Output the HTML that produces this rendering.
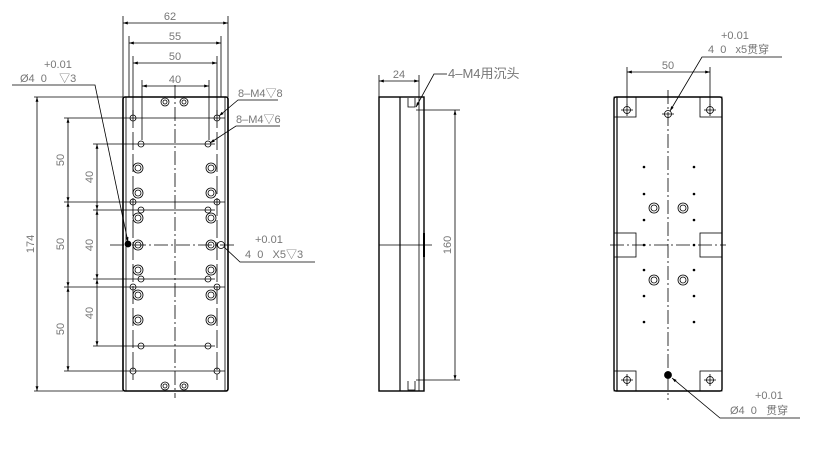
<!DOCTYPE html>
<html><head><meta charset="utf-8"><style>body{margin:0;background:#fff}svg{display:block}text{font-family:"Liberation Sans","Noto Sans CJK SC",sans-serif;fill:#777;font-size:11px}</style></head><body>
<svg width="818" height="452" viewBox="0 0 818 452" xmlns="http://www.w3.org/2000/svg">
<defs><marker id="a" viewBox="0 0 10 10" refX="10" refY="5" markerWidth="6" markerHeight="6" orient="auto-start-reverse"><path d="M0,2L10,5L0,8z" fill="#000"/></marker></defs>
<g stroke="#000" fill="none" stroke-width="0.8">
<!-- LEFT VIEW -->
<rect x="123" y="97" width="105" height="294" rx="2" stroke-width="1.6"/>
<line x1="126" y1="97" x2="126" y2="391"/><line x1="225" y1="97" x2="225" y2="391"/>
<line x1="175" y1="85" x2="175" y2="398" stroke-dasharray="14,3,2,3"/>
<line x1="110" y1="245" x2="235" y2="245" stroke-dasharray="14,3,2,3"/>
<line x1="133" y1="110" x2="133" y2="380" stroke-dasharray="18,4"/><line x1="217" y1="110" x2="217" y2="380" stroke-dasharray="18,4"/>
<!-- top dims -->
<line x1="123" y1="16" x2="123" y2="97"/><line x1="228" y1="16" x2="228" y2="97"/>
<line x1="129" y1="36" x2="129" y2="97"/><line x1="221" y1="36" x2="221" y2="97"/>
<line x1="133" y1="56" x2="133" y2="115"/><line x1="217" y1="56" x2="217" y2="115"/>
<line x1="142" y1="80" x2="142" y2="140"/><line x1="209" y1="80" x2="209" y2="140"/>
<line x1="123" y1="23" x2="228" y2="23" marker-start="url(#a)" marker-end="url(#a)"/>
<line x1="129" y1="43" x2="221" y2="43" marker-start="url(#a)" marker-end="url(#a)"/>
<line x1="133" y1="63" x2="217" y2="63" marker-start="url(#a)" marker-end="url(#a)"/>
<line x1="142" y1="86" x2="209" y2="86" marker-start="url(#a)" marker-end="url(#a)"/>
<!-- left dims -->
<line x1="34" y1="97" x2="123" y2="97"/><line x1="34" y1="391" x2="123" y2="391"/>
<line x1="37" y1="97" x2="37" y2="391" marker-start="url(#a)" marker-end="url(#a)"/>
<line x1="64" y1="118" x2="225" y2="118"/><line x1="64" y1="202" x2="225" y2="202"/><line x1="64" y1="287" x2="225" y2="287"/><line x1="64" y1="371" x2="225" y2="371"/>
<line x1="93" y1="144" x2="215" y2="144"/><line x1="93" y1="210" x2="215" y2="210"/><line x1="93" y1="279" x2="215" y2="279"/><line x1="93" y1="346" x2="215" y2="346"/>
<line x1="68" y1="118" x2="68" y2="202" marker-start="url(#a)" marker-end="url(#a)"/>
<line x1="68" y1="202" x2="68" y2="287" marker-start="url(#a)" marker-end="url(#a)"/>
<line x1="68" y1="287" x2="68" y2="371" marker-start="url(#a)" marker-end="url(#a)"/>
<line x1="97" y1="144" x2="97" y2="210" marker-start="url(#a)" marker-end="url(#a)"/>
<line x1="97" y1="210" x2="97" y2="279" marker-start="url(#a)" marker-end="url(#a)"/>
<line x1="97" y1="279" x2="97" y2="346" marker-start="url(#a)" marker-end="url(#a)"/>
<!-- holes -->
<g>
<circle cx="133" cy="118" r="3"/><circle cx="217" cy="118" r="3"/>
<circle cx="141" cy="144" r="3"/><circle cx="208" cy="144" r="3"/>
<circle cx="133" cy="202" r="3"/><circle cx="217" cy="202" r="3"/>
<circle cx="141" cy="210" r="3"/><circle cx="208" cy="210" r="3"/>
<circle cx="141" cy="279" r="3"/><circle cx="208" cy="279" r="3"/>
<circle cx="133" cy="287" r="3"/><circle cx="217" cy="287" r="3"/>
<circle cx="141" cy="346" r="3"/><circle cx="208" cy="346" r="3"/>
<circle cx="133" cy="371" r="3"/><circle cx="217" cy="371" r="3"/>
<circle cx="221" cy="245" r="3.5"/>
</g>
<g>
<circle cx="138" cy="168" r="5"/><circle cx="138" cy="168" r="3"/><circle cx="211" cy="168" r="5"/><circle cx="211" cy="168" r="3"/>
<circle cx="138" cy="193" r="5"/><circle cx="138" cy="193" r="3"/><circle cx="211" cy="193" r="5"/><circle cx="211" cy="193" r="3"/>
<circle cx="138" cy="218" r="5"/><circle cx="138" cy="218" r="3"/><circle cx="211" cy="218" r="5"/><circle cx="211" cy="218" r="3"/>
<circle cx="138" cy="245" r="5"/><circle cx="138" cy="245" r="3"/><circle cx="211" cy="245" r="5"/><circle cx="211" cy="245" r="3"/>
<circle cx="138" cy="270" r="5"/><circle cx="138" cy="270" r="3"/><circle cx="211" cy="270" r="5"/><circle cx="211" cy="270" r="3"/>
<circle cx="138" cy="295" r="5"/><circle cx="138" cy="295" r="3"/><circle cx="211" cy="295" r="5"/><circle cx="211" cy="295" r="3"/>
<circle cx="138" cy="320" r="5"/><circle cx="138" cy="320" r="3"/><circle cx="211" cy="320" r="5"/><circle cx="211" cy="320" r="3"/>
<circle cx="165" cy="102" r="4"/><circle cx="165" cy="102" r="2"/><circle cx="184" cy="102" r="4"/><circle cx="184" cy="102" r="2"/>
<circle cx="165" cy="386" r="4"/><circle cx="165" cy="386" r="2"/><circle cx="184" cy="386" r="4"/><circle cx="184" cy="386" r="2"/>
</g>
<circle cx="128" cy="244" r="3" fill="#000"/>
<!-- leaders left -->
<polyline points="12,85 95,85 128,242" marker-end="url(#a)"/>
<polyline points="278,100 238,100 219,116" marker-end="url(#a)"/>
<polyline points="280,126 236,126 210,143" marker-end="url(#a)"/>
<polyline points="224,247 240,262 315,262" />
<!-- MIDDLE VIEW -->
<rect x="379" y="97" width="45" height="294" stroke-width="1.4"/>
<line x1="400" y1="97" x2="400" y2="391" stroke-width="1.2"/>
<line x1="419" y1="97" x2="419" y2="391"/>
<line x1="379" y1="245" x2="432" y2="245"/>
<line x1="424" y1="233" x2="424" y2="257" stroke-width="2"/>
<path d="M408,98v9h7v-9M408,381v9h7v-9"/>
<line x1="379" y1="75" x2="379" y2="97"/><line x1="419" y1="75" x2="419" y2="97"/>
<line x1="379" y1="81" x2="419" y2="81" marker-start="url(#a)" marker-end="url(#a)"/>
<line x1="416" y1="110" x2="460" y2="110"/><line x1="416" y1="380" x2="460" y2="380"/>
<line x1="455" y1="110" x2="455" y2="380" marker-start="url(#a)" marker-end="url(#a)"/>
<polyline points="447,74 434,74 416,107" marker-end="url(#a)"/>
<!-- RIGHT VIEW -->
<rect x="614" y="97" width="108" height="294" rx="2" stroke-width="1.4"/>
<line x1="617" y1="97" x2="617" y2="391" stroke-width="1.2"/>
<line x1="668" y1="90" x2="668" y2="400" stroke-dasharray="14,3,2,3"/>
<line x1="610" y1="245" x2="726" y2="245" stroke-dasharray="14,3,2,3"/>
<rect x="614" y="97" width="22" height="20"/><rect x="700" y="97" width="22" height="20"/>
<rect x="614" y="371" width="22" height="20"/><rect x="700" y="371" width="22" height="20"/>
<rect x="614" y="233" width="22" height="24"/><rect x="700" y="233" width="22" height="24"/>
<g><circle cx="627" cy="110" r="3.5"/><circle cx="710" cy="110" r="3.5"/><circle cx="627" cy="380" r="3.5"/><circle cx="710" cy="380" r="3.5"/><circle cx="668" cy="114" r="3.5"/></g>
<path d="M621,110h12M627,104v12M704,110h12M710,104v12M621,380h12M627,374v12M704,380h12M710,374v12M662,114h12"/>
<circle cx="668" cy="375" r="3.5" fill="#000"/>
<g><circle cx="654" cy="208" r="5"/><circle cx="654" cy="208" r="3"/><circle cx="683" cy="208" r="5"/><circle cx="683" cy="208" r="3"/>
<circle cx="654" cy="280" r="5"/><circle cx="654" cy="280" r="3"/><circle cx="683" cy="280" r="5"/><circle cx="683" cy="280" r="3"/></g>
<line x1="627" y1="67" x2="627" y2="105"/><line x1="710" y1="67" x2="710" y2="105"/>
<line x1="627" y1="72" x2="710" y2="72" marker-start="url(#a)" marker-end="url(#a)"/>
<polyline points="782,57 702,57 670,111" marker-end="url(#a)"/>
<polyline points="800,418 720,418 672,378" marker-end="url(#a)"/>
</g>
<g fill="#000">
<circle cx="644" cy="167" r="1.3"/><circle cx="694" cy="167" r="1.3"/><circle cx="644" cy="194" r="1.3"/><circle cx="694" cy="194" r="1.3"/>
<circle cx="644" cy="220" r="1.3"/><circle cx="694" cy="220" r="1.3"/><circle cx="644" cy="245" r="1.3"/><circle cx="694" cy="245" r="1.3"/>
<circle cx="644" cy="270" r="1.3"/><circle cx="694" cy="270" r="1.3"/><circle cx="644" cy="296" r="1.3"/><circle cx="694" cy="296" r="1.3"/>
<circle cx="644" cy="322" r="1.3"/><circle cx="694" cy="322" r="1.3"/>
</g>
<text x="170" y="20" text-anchor="middle">62</text>
<text x="175" y="40" text-anchor="middle">55</text>
<text x="175" y="60" text-anchor="middle">50</text>
<text x="175" y="83" text-anchor="middle">40</text>
<text x="44" y="68">+0.01</text>
<text x="20" y="82">Ø4&#160;&#160;0&#160;&#160;&#160;&#160;▽3</text>
<text x="238" y="97">8–M4▽8</text>
<text x="236" y="123">8–M4▽6</text>
<text x="255" y="243">+0.01</text>
<text x="245" y="258">4&#160;&#160;0&#160;&#160;&#160;X5▽3</text>
<g text-anchor="middle">
<text transform="translate(34,244) rotate(-90)">174</text>
<text transform="translate(64,160) rotate(-90)">50</text>
<text transform="translate(64,244) rotate(-90)">50</text>
<text transform="translate(64,329) rotate(-90)">50</text>
<text transform="translate(93,177) rotate(-90)">40</text>
<text transform="translate(93,245) rotate(-90)">40</text>
<text transform="translate(93,313) rotate(-90)">40</text>
<text transform="translate(451,245) rotate(-90)">160</text>
</g>
<text x="399" y="78" text-anchor="middle">24</text>
<text x="448" y="78" style="font-size:13px">4–M4用沉头</text>
<text x="668" y="69" text-anchor="middle">50</text>
<text x="721" y="39">+0.01</text>
<text x="708" y="53">4&#160;&#160;0&#160;&#160;&#160;x5贯穿</text>
<text x="755" y="399">+0.01</text>
<text x="730" y="414">Ø4&#160;&#160;0&#160;&#160;&#160;贯穿</text>
</svg>
</body></html>
